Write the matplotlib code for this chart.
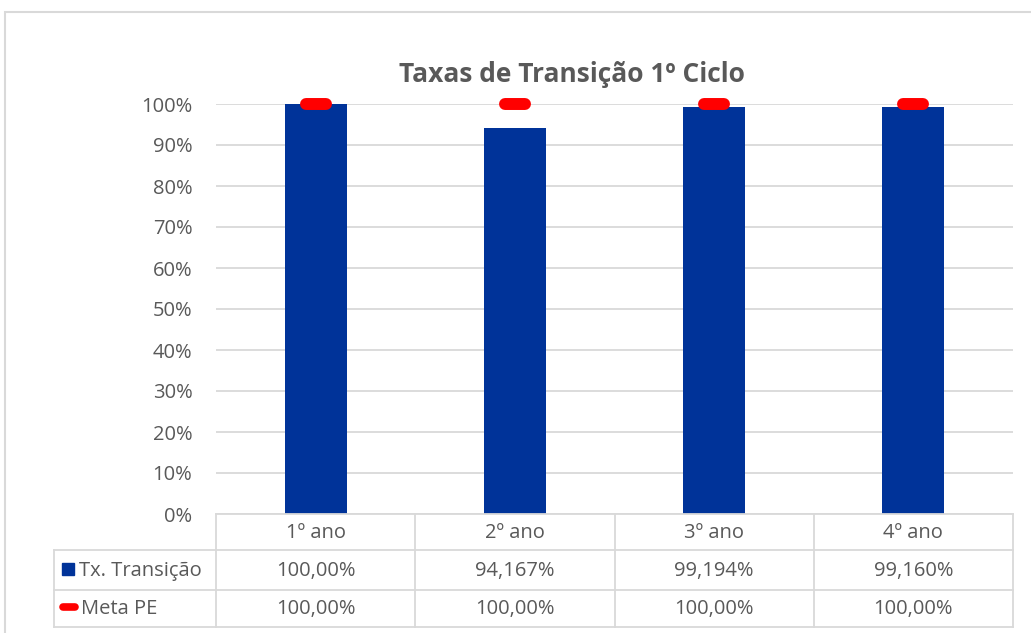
import matplotlib.pyplot as plt
from matplotlib.markers import MarkerStyle
from matplotlib.patches import Rectangle
from matplotlib.lines import Line2D

plt.rcParams['font.family'] = ['Open Sans', 'DejaVu Sans']

categorias = ['1º ano', '2º ano', '3º ano', '4º ano']
tx_transicao = [100.00, 94.167, 99.194, 99.160]
meta_pe = [100.00, 100.00, 100.00, 100.00]
rotulos_tx = ['100,00%', '94,167%', '99,194%', '99,160%']
rotulos_meta = ['100,00%', '100,00%', '100,00%', '100,00%']
titulo = 'Taxas de Transição 1º Ciclo'

W, H = 1031, 633
AZUL = '#003399'
VERMELHO = '#ff0000'
CINZA = '#595959'
GRELHA = '#d9d9d9'
FS = 14.5


def fx(px):
    return px / W


def fy(py):
    return 1 - py / H


fig = plt.figure(figsize=(W / 100, H / 100), dpi=100)

# moldura do gráfico
fig.patches.append(Rectangle((fx(4.5), fy(1000)), fx(1100), fy(11.5) - fy(1000),
                             transform=fig.transFigure, fill=False,
                             edgecolor=GRELHA, lw=1.5))

left, right, top, bottom = 216, 1013, 104, 514
ax = fig.add_axes([fx(left), fy(bottom), fx(right - left), fy(top) - fy(bottom)])

x = range(len(categorias))
ax.bar(x, [v / 100 for v in tx_transicao], width=0.31, color=AZUL, zorder=3)
mk = MarkerStyle('_', capstyle='round')
ax.plot(x, [v / 100 for v in meta_pe], linestyle='none', marker=mk,
        markersize=15, markeredgewidth=8.6, color=VERMELHO, zorder=4, clip_on=False)

ax.set_xlim(-0.5, len(categorias) - 0.5)
ax.set_ylim(0, 1)
ax.set_yticks([i / 10 for i in range(11)])
ax.set_yticklabels([f'{i * 10}%' for i in range(11)], fontsize=FS, color=CINZA)
ax.tick_params(axis='y', length=0, pad=17)
ax.set_xticks([])
ax.grid(axis='y', color=GRELHA, lw=1.3, zorder=0)
for s in ax.spines.values():
    s.set_visible(False)

fig.text(fx(572), fy(74), titulo, ha='center', va='center',
         fontsize=19, fontweight='bold', color=CINZA)

# tabela de dados
cols = [216, 415.25, 614.5, 813.75, 1013]
rows = [514, 550, 590, 627]
lw_t = 1.3
for c in cols:
    fig.add_artist(Line2D([fx(c)] * 2, [fy(514), fy(627)], color=GRELHA, lw=lw_t))
fig.add_artist(Line2D([fx(54)] * 2, [fy(550), fy(627)], color=GRELHA, lw=lw_t))
fig.add_artist(Line2D([fx(216), fx(1013)], [fy(514)] * 2, color=GRELHA, lw=lw_t))
for r in rows[1:]:
    fig.add_artist(Line2D([fx(54), fx(1013)], [fy(r)] * 2, color=GRELHA, lw=lw_t))

for i, cat in enumerate(categorias):
    cx = (cols[i] + cols[i + 1]) / 2
    fig.text(fx(cx), fy(533), cat, ha='center', va='center', fontsize=FS, color=CINZA)
    fig.text(fx(cx), fy(571), rotulos_tx[i], ha='center', va='center', fontsize=FS, color=CINZA)
    fig.text(fx(cx), fy(609), rotulos_meta[i], ha='center', va='center', fontsize=FS, color=CINZA)

fig.patches.append(Rectangle((fx(62), fy(575)), fx(12), fy(563) - fy(575),
                             transform=fig.transFigure, color=AZUL))
fig.add_artist(Line2D([fx(69)], [fy(607)], marker=mk, markersize=9,
                      markeredgewidth=5.5, color=VERMELHO))
fig.text(fx(79), fy(571), 'Tx. Transição', ha='left', va='center', fontsize=FS, color=CINZA)
fig.text(fx(81), fy(609), 'Meta PE', ha='left', va='center', fontsize=FS, color=CINZA)

fig.savefig('out.png', dpi=100)
